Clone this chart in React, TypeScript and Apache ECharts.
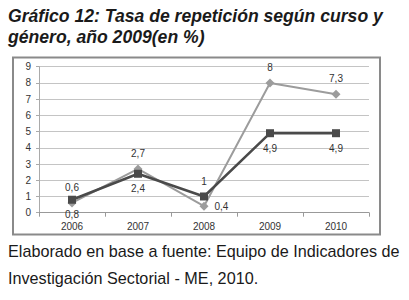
import React, { useEffect, useRef } from "react";
import * as echarts from "echarts";

const categories = ["2006", "2007", "2008", "2009", "2010"];
const seriesLight = [0.6, 2.7, 0.4, 8, 7.3];
const seriesDark = [0.8, 2.4, 1, 4.9, 4.9];
const lightLabelPos = ["top", "top", "right", "top", "top"];
const darkLabelPos = ["bottom", "bottom", "top", "bottom", "bottom"];
const yMin = 0;
const yMax = 9;
const yInterval = 1;
const titleLines = ["Gráfico 12: Tasa de repetición según curso y", "género, año 2009(en %)"];
const footerLines = ["Elaborado en base a fuente: Equipo de Indicadores de", "Investigación Sectorial - ME, 2010."];

const fmt = (v: number) => String(v).replace(".", ",");
const FF = "'Liberation Sans', Arial, sans-serif";

export default function App() {
  const ref = useRef<HTMLDivElement>(null);
  useEffect(() => {
    if (!ref.current) return;
    const chart = echarts.init(ref.current, undefined, { renderer: "svg" });
    const mk = (vals: number[], pos: string[]) =>
      vals.map((v, i) => ({
        value: v,
        label: { position: pos[i] as any },
      }));
    chart.setOption({
      animation: false,
      backgroundColor: "#ffffff",
      graphic: [
        {
          type: "rect",
          z: -10,
          silent: true,
          shape: { x: 13, y: 57.5, width: 367, height: 177 },
          style: { fill: "#ffffff", stroke: "#8a8a8a", lineWidth: 2 },
        },
        ...titleLines.map((t, i) => ({
          type: "text",
          left: 8,
          top: 6.6 + i * 21,
          style: {
            text: t,
            font: `italic bold 17.6px ${FF}`,
            fill: "#1a1a1a",
          },
        })),
        ...footerLines.map((t, i) => ({
          type: "text",
          left: 8,
          top: 242.8 + i * 27,
          style: {
            text: t,
            font: `16.2px ${FF}`,
            fill: "#1a1a1a",
          },
        })),
      ],
      grid: { left: 39, right: 40, top: 66.7, bottom: 87.3, containLabel: false },
      xAxis: {
        type: "category",
        data: categories,
        boundaryGap: true,
        axisLine: { show: true, lineStyle: { color: "#999999", width: 1 } },
        axisTick: { show: true, length: 4, lineStyle: { color: "#999999" } },
        axisLabel: { color: "#333333", fontSize: 10, fontFamily: FF, margin: 9 },
        splitLine: { show: false },
      },
      yAxis: {
        type: "value",
        min: yMin,
        max: yMax,
        interval: yInterval,
        axisLine: { show: true, lineStyle: { color: "#aaaaaa", width: 1 } },
        axisTick: { show: true, length: 3, lineStyle: { color: "#aaaaaa" } },
        axisLabel: { color: "#333333", fontSize: 10, fontFamily: FF, margin: 8 },
        splitLine: { show: true, lineStyle: { color: "#c4c4c4", width: 1 } },
      },
      series: [
        {
          type: "line",
          data: mk(seriesLight, lightLabelPos),
          symbol: "diamond",
          symbolSize: 9,
          lineStyle: { color: "#9c9c9c", width: 2 },
          itemStyle: { color: "#9c9c9c" },
          label: {
            show: true,
            distance: 6,
            color: "#333333",
            fontSize: 10,
            fontFamily: FF,
            formatter: (p: any) => fmt(p.value),
          },
          z: 2,
        },
        {
          type: "line",
          data: mk(seriesDark, darkLabelPos),
          symbol: "rect",
          symbolSize: 8,
          lineStyle: { color: "#4a4a4a", width: 2.5 },
          itemStyle: { color: "#4a4a4a" },
          label: {
            show: true,
            distance: 6,
            color: "#333333",
            fontSize: 10,
            fontFamily: FF,
            formatter: (p: any) => fmt(p.value),
          },
          z: 3,
        },
      ],
    });
    return () => chart.dispose();
  }, []);
  return (
    <div
      ref={ref}
      style={{ position: "absolute", left: 0, top: 0, width: 409, height: 300 }}
    />
  );
}
